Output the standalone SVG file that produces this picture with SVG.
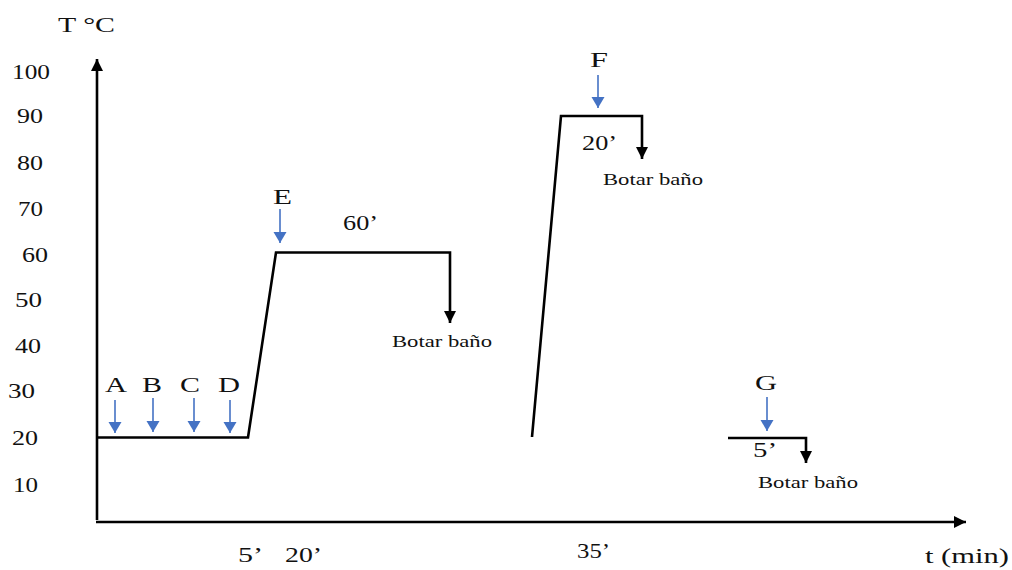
<svg xmlns="http://www.w3.org/2000/svg" width="1012" height="570" viewBox="0 0 1012 570">
<style>
text{font-family:"Liberation Serif","Times New Roman",serif;fill:#111;}
.lbl{font-size:21px;}
.ax{font-size:21px;}
.bb{font-size:17px;}
.k{stroke:#000;stroke-width:2.6;fill:none;stroke-linejoin:miter;}
.b{stroke:#4472c4;stroke-width:1.6;fill:none;}
</style>
<defs>
<marker id="ak" markerWidth="14" markerHeight="14" refX="12" refY="6" orient="auto" markerUnits="userSpaceOnUse">
<path d="M0,0 L12,6 L0,12 Z" fill="#000"/>
</marker>
<marker id="ab" markerWidth="14" markerHeight="14" refX="11" refY="6.5" orient="auto" markerUnits="userSpaceOnUse">
<path d="M0,0 L11,6.5 L0,13 Z" fill="#4472c4"/>
</marker>
</defs>
<rect width="1012" height="570" fill="#fff"/>

<g id="axes">
<line class="k" x1="97" y1="520" x2="97" y2="59" marker-end="url(#ak)"/>
<line class="k" x1="96" y1="522" x2="966" y2="522" marker-end="url(#ak)"/>
<text class="ax" x="58" y="32" textLength="57" lengthAdjust="spacingAndGlyphs">T °C</text>
<text class="ax" x="925" y="563" textLength="84" lengthAdjust="spacingAndGlyphs">t (min)</text>
</g>

<g id="y-labels" class="lbl">
<text x="12" y="79" textLength="38" lengthAdjust="spacingAndGlyphs">100</text>
<text x="17" y="123" textLength="26" lengthAdjust="spacingAndGlyphs">90</text>
<text x="17" y="170" textLength="26" lengthAdjust="spacingAndGlyphs">80</text>
<text x="18" y="216" textLength="25" lengthAdjust="spacingAndGlyphs">70</text>
<text x="22" y="262" textLength="26" lengthAdjust="spacingAndGlyphs">60</text>
<text x="15" y="307" textLength="27" lengthAdjust="spacingAndGlyphs">50</text>
<text x="15" y="353" textLength="26" lengthAdjust="spacingAndGlyphs">40</text>
<text x="8" y="398" textLength="27" lengthAdjust="spacingAndGlyphs">30</text>
<text x="12" y="445" textLength="26" lengthAdjust="spacingAndGlyphs">20</text>
<text x="13" y="492" textLength="25" lengthAdjust="spacingAndGlyphs">10</text>
</g>

<g id="x-labels" class="lbl">
<text x="238" y="562" textLength="25" lengthAdjust="spacingAndGlyphs">5’</text>
<text x="285" y="562" textLength="37" lengthAdjust="spacingAndGlyphs">20’</text>
<text x="577" y="558" textLength="33" lengthAdjust="spacingAndGlyphs">35’</text>
</g>

<g id="connectors">
<polyline class="k" points="97,437.5 248,437.5 276,252.5 450,252.5 450,323" marker-end="url(#ak)"/>
<polyline class="k" points="532,437 561,116 642,116 642,159" marker-end="url(#ak)"/>
<polyline class="k" points="728,438 806,438 806,463" marker-end="url(#ak)"/>
<line class="b" x1="115" y1="400" x2="115" y2="433" marker-end="url(#ab)"/>
<line class="b" x1="153" y1="398" x2="153" y2="432" marker-end="url(#ab)"/>
<line class="b" x1="194" y1="398" x2="194" y2="432" marker-end="url(#ab)"/>
<line class="b" x1="230" y1="400" x2="230" y2="433" marker-end="url(#ab)"/>
<line class="b" x1="280" y1="209" x2="280" y2="243" marker-end="url(#ab)"/>
<line class="b" x1="598" y1="75" x2="598" y2="108" marker-end="url(#ab)"/>
<line class="b" x1="767" y1="397" x2="767" y2="431" marker-end="url(#ab)"/>
</g>

<g id="node-A"><text class="lbl" x="105" y="392" textLength="22" lengthAdjust="spacingAndGlyphs">A</text></g>
<g id="node-B"><text class="lbl" x="142" y="392" textLength="20" lengthAdjust="spacingAndGlyphs">B</text></g>
<g id="node-C"><text class="lbl" x="180" y="392" textLength="20" lengthAdjust="spacingAndGlyphs">C</text></g>
<g id="node-D"><text class="lbl" x="218" y="392" textLength="22" lengthAdjust="spacingAndGlyphs">D</text></g>
<g id="node-E"><text class="lbl" x="273" y="204" textLength="19" lengthAdjust="spacingAndGlyphs">E</text></g>
<g id="node-60"><text class="lbl" x="343" y="230" textLength="35" lengthAdjust="spacingAndGlyphs">60’</text></g>
<g id="node-botar1"><text class="bb" x="392" y="347" textLength="100" lengthAdjust="spacingAndGlyphs">Botar baño</text></g>
<g id="node-F"><text class="lbl" x="590" y="67" textLength="18" lengthAdjust="spacingAndGlyphs">F</text></g>
<g id="node-20"><text class="lbl" x="582" y="150" textLength="35" lengthAdjust="spacingAndGlyphs">20’</text></g>
<g id="node-botar2"><text class="bb" x="603" y="185" textLength="100" lengthAdjust="spacingAndGlyphs">Botar baño</text></g>
<g id="node-G"><text class="lbl" x="755" y="390" textLength="22" lengthAdjust="spacingAndGlyphs">G</text></g>
<g id="node-5"><text class="lbl" x="753" y="457" textLength="24" lengthAdjust="spacingAndGlyphs">5’</text></g>
<g id="node-botar3"><text class="bb" x="758" y="488" textLength="100" lengthAdjust="spacingAndGlyphs">Botar baño</text></g>
</svg>
